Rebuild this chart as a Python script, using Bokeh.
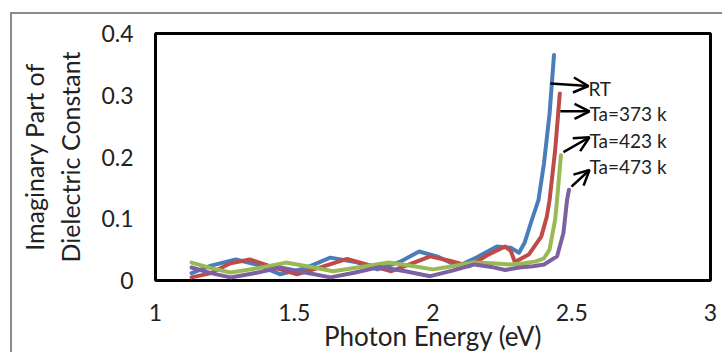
from bokeh.plotting import figure
from bokeh.models import Range1d, FixedTicker, Arrow, OpenHead, Label
from bokeh.embed import file_html
from bokeh.resources import INLINE

# ---- data ----
rt_x = [1.13, 1.20, 1.29, 1.37, 1.45, 1.54, 1.63, 1.72, 1.80, 1.88, 1.95, 2.02, 2.09,
        2.16, 2.23, 2.28, 2.31, 2.33, 2.356, 2.38, 2.40, 2.42, 2.436]
rt_y = [0.012, 0.024, 0.034, 0.025, 0.010, 0.020, 0.037, 0.030, 0.018, 0.030, 0.047, 0.038,
        0.023, 0.038, 0.055, 0.053, 0.045, 0.061, 0.098, 0.13, 0.19, 0.27, 0.365]

t373_x = [1.13, 1.20, 1.27, 1.34, 1.42, 1.51, 1.60, 1.69, 1.77, 1.85, 1.92, 1.99, 2.06,
          2.13, 2.20, 2.26, 2.28, 2.295, 2.345, 2.39, 2.41, 2.42, 2.44, 2.457]
t373_y = [0.005, 0.012, 0.028, 0.034, 0.022, 0.010, 0.022, 0.035, 0.025, 0.015, 0.027, 0.039,
          0.032, 0.023, 0.042, 0.055, 0.048, 0.030, 0.042, 0.071, 0.103, 0.13, 0.21, 0.303]

t423_x = [1.13, 1.20, 1.27, 1.37, 1.47, 1.56, 1.64, 1.74, 1.84, 1.92, 2.00, 2.07, 2.14,
          2.21, 2.28, 2.33, 2.37, 2.40, 2.42, 2.44, 2.447, 2.461]
t423_y = [0.029, 0.020, 0.013, 0.020, 0.029, 0.022, 0.015, 0.022, 0.029, 0.024, 0.018, 0.023,
          0.029, 0.028, 0.026, 0.028, 0.031, 0.036, 0.050, 0.098, 0.13, 0.203]

t473_x = [1.13, 1.20, 1.27, 1.36, 1.45, 1.54, 1.63, 1.72, 1.81, 1.90, 1.99, 2.07, 2.15,
          2.21, 2.26, 2.31, 2.36, 2.40, 2.447, 2.47, 2.483, 2.49]
t473_y = [0.021, 0.012, 0.005, 0.012, 0.021, 0.013, 0.005, 0.013, 0.022, 0.015, 0.007, 0.016,
          0.026, 0.022, 0.017, 0.021, 0.023, 0.026, 0.039, 0.077, 0.13, 0.147]

series_names = ["RT", "Ta=373 k", "Ta=423 k", "Ta=473 k"]
series_colors = ["#4A7EBB", "#BE4B48", "#98B954", "#7D60A0"]

# annotation arrows: start (x, y) -> end (x, y), label position
arrow_x0 = [2.423, 2.459, 2.470, 2.499]
arrow_y0 = [0.319, 0.274, 0.208, 0.152]
arrow_x1 = [2.560, 2.564, 2.564, 2.564]
arrow_y1 = [0.315, 0.274, 0.232, 0.179]
label_x = [2.560, 2.564, 2.564, 2.564]
label_y = [0.311, 0.271, 0.226, 0.185]

x_ticks = [1, 1.5, 2, 2.5, 3]
x_tick_labels = ["1", "1.5", "2", "2.5", "3"]
y_ticks = [0, 0.1, 0.2, 0.3, 0.4]
y_tick_labels = ["0", "0.1", "0.2", "0.3", "0.4"]

FONT = "Lato"

p = figure(width=712, height=340, output_backend="svg", toolbar_location=None,
           x_range=Range1d(1, 3), y_range=Range1d(0, 0.4),
           min_border_left=143, min_border_right=14, min_border_top=19, min_border_bottom=72)
p.styles = {"margin-left": "10px", "margin-top": "12px",
            "border-left": "2px solid #8C8C8C", "border-top": "2px solid #8C8C8C"}

p.background_fill_color = "white"
p.border_fill_color = "white"
p.outline_line_color = "black"
p.outline_line_width = 3
p.xgrid.visible = False
p.ygrid.visible = False

xs = [rt_x, t373_x, t423_x, t473_x]
ys = [rt_y, t373_y, t423_y, t473_y]
for x, y, c in zip(xs, ys, series_colors):
    p.line(x, y, line_color=c, line_width=4, line_join="round", line_cap="round")

for i in range(4):
    p.add_layout(Arrow(end=OpenHead(size=15, line_width=2.5, line_color="black"),
                       x_start=arrow_x0[i], y_start=arrow_y0[i],
                       x_end=arrow_x1[i], y_end=arrow_y1[i],
                       line_width=2.5, line_color="black"))
    p.add_layout(Label(x=label_x[i], y=label_y[i], text=series_names[i],
                       text_font=FONT, text_font_size="19px", text_color="#222222",
                       text_baseline="middle", text_align="left"))

p.xaxis.ticker = FixedTicker(ticks=x_ticks)
p.xaxis.major_label_overrides = {t: l for t, l in zip(x_ticks, x_tick_labels)}
p.yaxis.ticker = FixedTicker(ticks=y_ticks)
p.yaxis.major_label_overrides = {t: l for t, l in zip(y_ticks, y_tick_labels)}

for ax in (p.xaxis, p.yaxis):
    ax.axis_line_color = None
    ax.major_tick_line_color = None
    ax.minor_tick_line_color = None
    ax.major_tick_in = 0
    ax.major_tick_out = 0
    ax.major_label_text_font = FONT
    ax.major_label_text_font_size = "23px"
    ax.major_label_text_color = "#222222"
    ax.axis_label_text_font = FONT
    ax.axis_label_text_font_style = "normal"
    ax.axis_label_text_color = "#222222"

p.xaxis.axis_label = "Photon Energy (eV)"
p.xaxis.axis_label_text_font_size = "26px"
p.xaxis.major_label_standoff = 23
p.xaxis.axis_label_standoff = -4
p.yaxis.axis_label = "Imaginary Part of\nDielectric Constant"
p.yaxis.axis_label_text_font_size = "25px"
p.yaxis.major_label_standoff = 22
p.yaxis.axis_label_standoff = 13

open("out.html", "w").write(file_html(p, INLINE))
